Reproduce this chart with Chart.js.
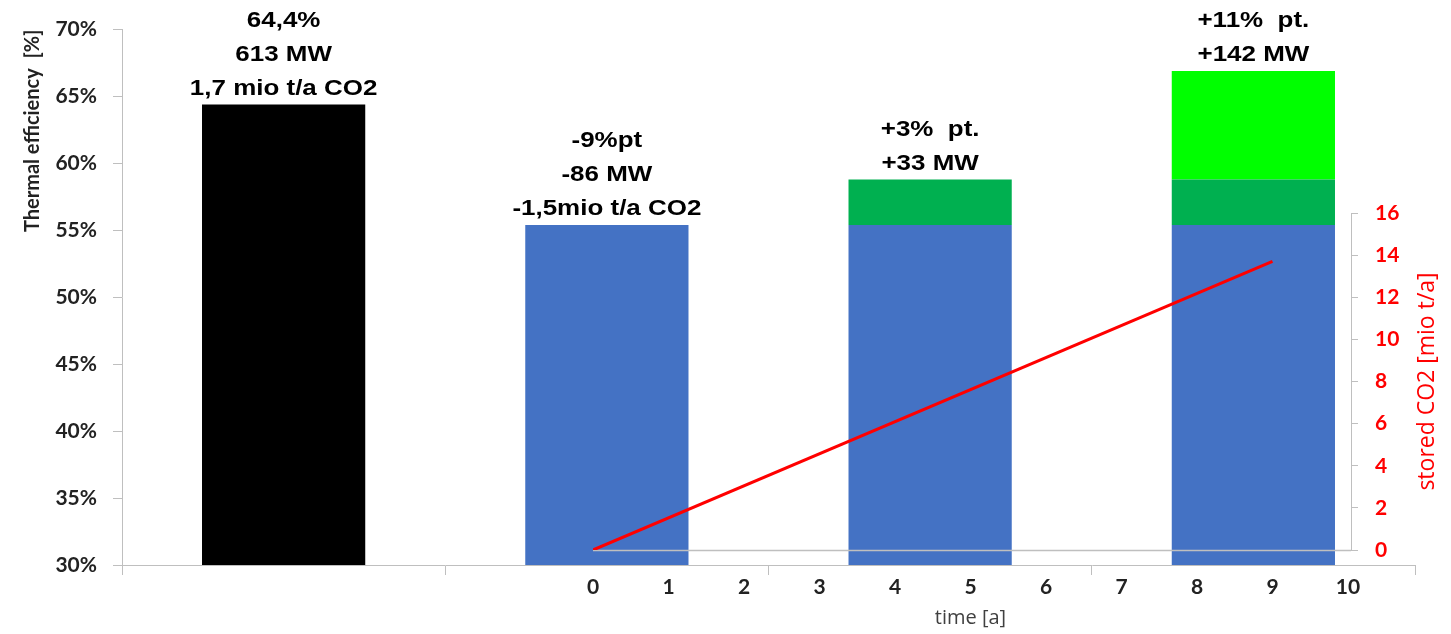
<!DOCTYPE html>
<html>
<head>
<meta charset="utf-8">
<script src="https://cdn.jsdelivr.net/npm/chart.js@4"></script>
<style>
  html, body { margin: 0; padding: 0; background: #fff; }
  #wrap { width: 1451px; height: 634px; }
</style>
</head>
<body>
<div id="wrap"><canvas id="effChart"></canvas></div>
<script>
// bar categories (not labelled in the original)
const categories = ['Reference', 'with CCS', 'CCS + step 1', 'CCS + step 2'];
const baseEfficiency = [64.4, 55.4, 55.4, 55.4];
const step1Gain = [null, null, 3.4, 3.4];
const step2Gain = [null, null, null, 8.1];
const baseColors = ['#000000', '#4472c4', '#4472c4', '#4472c4'];

const barNotes = [
    ['64,4%', '613 MW', '1,7 mio t/a CO2'],
    ['-9%pt', '-86 MW', '-1,5mio t/a CO2'],
    ['+3%  pt.', '+33 MW'],
    ['+11%  pt.', '+142 MW']
];

// stored CO2 over time (secondary axes)
const timeYears = [0, 9];
const storedCO2 = [0, 13.7];

const effTicks = [30, 35, 40, 45, 50, 55, 60, 65, 70];
const timeTicks = [0, 1, 2, 3, 4, 5, 6, 7, 8, 9, 10];
const co2Ticks = [0, 2, 4, 6, 8, 10, 12, 14, 16];

const axisGrey = '#bfbfbf';
const tickFont = { family: 'Lato', size: 21, weight: 'bold' };

// the secondary axes only cover part of the plot, like in the excel original
const placeAxes = {
    id: 'placeAxes',
    afterLayout(chart) {
        const xt = chart.scales.xt;
        const y2 = chart.scales.y2;
        xt.left = 593;
        xt.right = 1348;
        xt.width = xt.right - xt.left;
        xt.configure();
        y2.top = 213;
        y2.bottom = 550;
        y2.height = y2.bottom - y2.top;
        y2.left = 1351;
        y2.right = 1351 + 60;
        y2.width = 60;
        y2.configure();
    },
    beforeDatasetDraw(chart, args) {
        if (args.meta.type !== 'line') return;
        // secondary time axis line, crossing at 0 of stored CO2
        const xt = chart.scales.xt;
        const y2 = chart.scales.y2;
        const y = Math.round(y2.getPixelForValue(0)) + 0.5;
        const ctx = chart.ctx;
        ctx.save();
        ctx.strokeStyle = axisGrey;
        ctx.lineWidth = 1.5;
        ctx.beginPath();
        ctx.moveTo(xt.getPixelForValue(0), y);
        ctx.lineTo(y2.left, y);
        ctx.stroke();
        ctx.restore();
    }
};

const notesPlugin = {
    id: 'notes',
    afterDraw(chart) {
        const ctx = chart.ctx;
        ctx.save();
        ctx.font = 'bold 22px "Liberation Sans", Arial, sans-serif';
        ctx.fillStyle = '#000';
        ctx.textAlign = 'center';
        ctx.textBaseline = 'middle';
        categories.forEach(function(cat, i) {
            let top = Infinity;
            let x = 0;
            [0, 1, 2].forEach(function(d) {
                const el = chart.getDatasetMeta(d).data[i];
                const val = chart.data.datasets[d].data[i];
                if (val !== null && el && isFinite(el.y)) {
                    top = Math.min(top, el.y);
                    x = el.x;
                }
            });
            const lines = barNotes[i];
            lines.forEach(function(txt, k) {
                const y = top - 16 - (lines.length - 1 - k) * 34;
                // original text is a bit wider than plain arial
                ctx.save();
                ctx.translate(x, y);
                ctx.scale(1.18, 1);
                ctx.fillText(txt, 0, 0);
                ctx.restore();
            });
        });

        // excel draws this title bottom-to-top on the right side
        const y2 = chart.scales.y2;
        ctx.font = '23px "Open Sans", sans-serif';
        ctx.fillStyle = '#ff0000';
        ctx.translate(1427, (y2.top + y2.bottom) / 2);
        ctx.rotate(-Math.PI / 2);
        ctx.fillText('stored CO2 [mio t/a]', 0, 0);
        ctx.restore();
    }
};

new Chart(document.getElementById('effChart'), {
    type: 'bar',
    data: {
        labels: categories,
        datasets: [
            {
                label: 'efficiency',
                data: baseEfficiency,
                backgroundColor: baseColors,
                stack: 'eff',
                grouped: false,
                barPercentage: 0.505,
                categoryPercentage: 1
            },
            {
                label: 'step 1',
                data: step1Gain,
                backgroundColor: '#00b050',
                stack: 'eff',
                grouped: false,
                barPercentage: 0.505,
                categoryPercentage: 1
            },
            {
                label: 'step 2',
                data: step2Gain,
                backgroundColor: '#00ff00',
                stack: 'eff',
                grouped: false,
                barPercentage: 0.505,
                categoryPercentage: 1
            },
            {
                type: 'line',
                label: 'stored CO2',
                data: timeYears.map((t, i) => ({ x: t, y: storedCO2[i] })),
                xAxisID: 'xt',
                yAxisID: 'y2',
                borderColor: '#ff0000',
                borderWidth: 3,
                pointRadius: 0,
                order: -1
            }
        ]
    },
    options: {
        responsive: true,
        maintainAspectRatio: false,
        animation: false,
        layout: { padding: { top: 28, right: 0, bottom: 0, left: 0 } },
        plugins: {
            legend: { display: false },
            tooltip: { enabled: false }
        },
        scales: {
            x: {
                type: 'category',
                stacked: true,
                weight: 0,
                offset: true,
                ticks: { display: false },
                grid: { offset: true, drawOnChartArea: false, drawTicks: true, tickLength: 10, color: axisGrey },
                border: { color: axisGrey },
                afterFit: function(scale) { scale.height = 10; }
            },
            xt: {
                type: 'linear',
                position: 'bottom',
                weight: 1,
                offset: false,
                min: 0,
                max: 10,
                afterBuildTicks: function(scale) {
                    scale.ticks = timeTicks.map(v => ({ value: v }));
                },
                ticks: { font: tickFont, color: '#222', padding: 0, maxRotation: 0, autoSkip: false },
                grid: { display: false, drawTicks: false, offset: false },
                border: { display: false },
                title: {
                    display: true,
                    text: 'time [a]',
                    color: '#404040',
                    font: { family: 'Open Sans', size: 20 },
                    padding: { top: 0, bottom: 4 }
                },
                afterFit: function(scale) { scale.height = 59; }
            },
            y: {
                type: 'linear',
                position: 'left',
                stacked: true,
                min: 30,
                max: 70,
                afterBuildTicks: function(scale) {
                    scale.ticks = effTicks.map(v => ({ value: v }));
                },
                ticks: {
                    font: tickFont,
                    color: '#222',
                    padding: 16,
                    callback: v => v + '%'
                },
                grid: { drawOnChartArea: false, tickLength: 9, color: axisGrey },
                border: { color: axisGrey },
                title: {
                    display: true,
                    text: 'Thermal efficiency  [%]',
                    align: 'end',
                    color: '#222',
                    font: { family: 'Lato', size: 20, weight: 'bold' },
                    padding: { top: 21, bottom: 0 }
                },
                afterFit: function(scale) { scale.width = 122; }
            },
            y2: {
                type: 'linear',
                position: 'right',
                min: 0,
                max: 16,
                afterBuildTicks: function(scale) {
                    scale.ticks = co2Ticks.map(v => ({ value: v }));
                },
                ticks: { font: { family: 'Lato', size: 21, weight: 'bold' }, color: '#ff0000', padding: 17 },
                grid: { drawOnChartArea: false, tickLength: 7, color: axisGrey },
                border: { color: axisGrey },
                afterFit: function(scale) { scale.width = 36; }
            }
        }
    },
    plugins: [placeAxes, notesPlugin]
});
</script>
</body>
</html>
